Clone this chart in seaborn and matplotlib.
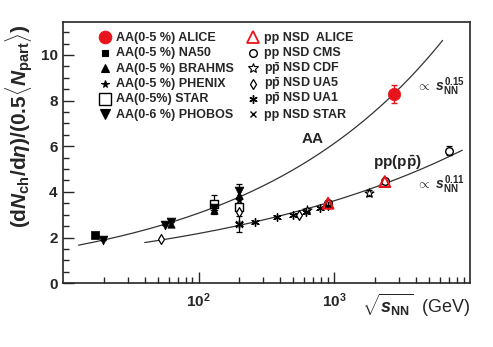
import numpy as np
import matplotlib
matplotlib.use("Agg")
import matplotlib.pyplot as plt
from matplotlib.ticker import LogLocator, MultipleLocator, FixedLocator, LogFormatterSciNotation
import seaborn as sns
import pandas as pd

# ---------------- data ----------------
alice_aa_E = [2760]; alice_aa_y = [8.3]; alice_aa_err = [0.4]
na50_E = [17.3]; na50_y = [2.1]
brahms_E = [62.4, 130, 200]; brahms_y = [2.6, 3.2, 3.85]
phenix_E = [130, 200]; phenix_y = [3.15, 3.65]
star_aa_E = [130, 200]; star_aa_y = [3.45, 3.35]; star_aa_err = [0.4, 0.0]
phobos_E = [19.6, 56, 62.4, 130, 200]; phobos_y = [1.9, 2.55, 2.7, 3.3, 4.05]; phobos_err = [0.0, 0.0, 0.0, 0.0, 0.3]

alice_pp_E = [900, 2360]; alice_pp_y = [3.5, 4.45]
cms_E = [900, 2360, 7000]; cms_y = [3.5, 4.47, 5.8]; cms_err = [0.1, 0.12, 0.2]
cdf_E = [630, 1800]; cdf_y = [3.2, 3.95]; cdf_err = [0.1, 0.15]
ua5_E = [53, 200, 546, 900]; ua5_y = [1.95, 3.1, 3.0, 3.45]
ua1_E = [200, 260, 380, 500, 620, 790, 900]; ua1_y = [2.6, 2.7, 2.9, 3.0, 3.1, 3.3, 3.4]
star_pp_E = [200]; star_pp_y = [2.6]; star_pp_err = [0.35]

x_major_ticks = [100, 1000]

left_labels = ["AA(0-5 %) ALICE", "AA(0-5 %) NA50", "AA(0-5 %) BRAHMS",
               "AA(0-5 %) PHENIX", "AA(0-5%) STAR", "AA(0-6 %) PHOBOS"]
right_labels = ["pp NSD  ALICE", "pp NSD CMS", r"p$\bar{\mathrm{p}}$ NSD CDF",
                r"p$\bar{\mathrm{p}}$ NSD UA5", r"p$\bar{\mathrm{p}}$ NSD UA1", "pp NSD STAR"]

# power-law fits  dN/deta ~ coef * s^exp  (s = E^2)
aa_coef, aa_exp, aa_range = 0.771, 0.15, (13, 6300)
pp_coef, pp_exp, pp_range = 0.79, 0.11, (40, 8800)

RED = "#e8141b"

# ---------------- style ----------------
sns.set_style("ticks")
plt.rcParams['font.family'] = ['Liberation Sans', 'DejaVu Sans']
plt.rcParams['font.weight'] = 'bold'
plt.rcParams['mathtext.fontset'] = 'custom'
plt.rcParams['mathtext.rm'] = 'Liberation Sans:bold'
plt.rcParams['mathtext.it'] = 'Liberation Sans:bold:italic'
plt.rcParams['mathtext.bf'] = 'Liberation Sans:bold'
plt.rcParams['mathtext.sf'] = 'Liberation Sans:bold'

fig = plt.figure(figsize=(4.93, 3.47), dpi=100)
ax = fig.add_axes([0.128, 0.184, 0.825, 0.753])

# fit curves
for coef, ex, rng in [(aa_coef, aa_exp, aa_range), (pp_coef, pp_exp, pp_range)]:
    E = np.logspace(np.log10(rng[0]), np.log10(rng[1]), 200)
    df = pd.DataFrame({"E": E, "y": coef * (E ** 2) ** ex})
    sns.lineplot(data=df, x="E", y="y", ax=ax, color="#333333", lw=0.9, legend=False)

# error bars
def eb(E, y, err):
    ax.errorbar(E, y, yerr=err, fmt="none", ecolor="black", elinewidth=0.9, capsize=2, capthick=0.9, zorder=3)

eb(star_aa_E, star_aa_y, star_aa_err)
eb(phobos_E, phobos_y, phobos_err)
eb(cms_E, cms_y, cms_err)
eb(cdf_E, cdf_y, cdf_err)
eb(star_pp_E, star_pp_y, star_pp_err)

series = [
    # E, y, marker, size, face, edge, lw
    (na50_E, na50_y, "s", 30, "black", "black", 0.5),
    (brahms_E, brahms_y, "^", 28, "black", "black", 0.5),
    (phenix_E, phenix_y, "*", 30, "black", "black", 0.5),
    (star_aa_E, star_aa_y, "s", 40, "white", "black", 1.0),
    (phobos_E, phobos_y, "v", 40, "black", "black", 0.5),
    (cms_E, cms_y, "o", 30, "white", "black", 1.0),
    (cdf_E, cdf_y, "*", 45, "white", "black", 0.8),
    (ua5_E, ua5_y, "d", 25, "white", "black", 0.9),
    (ua1_E, ua1_y, (6, 2, 0), 30, "black", "black", 1.0),
    (star_pp_E, star_pp_y, "x", 25, "black", "black", 1.0),
    (alice_pp_E, alice_pp_y, "^", 60, "none", RED, 1.5),
    (alice_aa_E, alice_aa_y, "o", 80, RED, RED, 0.5),
]
for E, y, m, s, fc, ec, lw in series:
    d = pd.DataFrame({"E": E, "y": y})
    if fc in ("none", "white") and m not in ("x", (6, 2, 0)):
        sns.scatterplot(data=d, x="E", y="y", ax=ax, marker=m, s=s, facecolor=fc,
                        edgecolor=ec, linewidth=lw, zorder=4, legend=False)
    else:
        sns.scatterplot(data=d, x="E", y="y", ax=ax, marker=m, s=s, color=fc,
                        edgecolor=ec, linewidth=lw, zorder=4, legend=False)

ax.errorbar(alice_aa_E, alice_aa_y, yerr=alice_aa_err, fmt="none", ecolor=RED,
            elinewidth=1.0, capsize=2, zorder=5)

# axes
ax.set_xscale("log")
ax.set_xlim(10, 1e4)
ax.set_ylim(0, 11.45)
ax.yaxis.set_major_locator(MultipleLocator(2))
ax.yaxis.set_minor_locator(MultipleLocator(0.5))
ax.xaxis.set_major_locator(FixedLocator(x_major_ticks))
ax.xaxis.set_major_formatter(LogFormatterSciNotation())
ax.xaxis.set_minor_locator(LogLocator(base=10, subs=np.arange(2, 10), numticks=20))
ax.tick_params(which="both", direction="in", top=False, right=False, width=1.0)
ax.tick_params(which="major", length=8, labelsize=11, pad=4)
ax.tick_params(which="minor", length=4)
ax.tick_params(axis="x", which="major", pad=6)
for sp in ax.spines.values():
    sp.set_linewidth(1.2)
    sp.set_visible(True)

ax.set_ylabel(r"$(\mathrm{d}\mathit{N}_{\mathrm{ch}}\mathrm{/d}\eta)\mathrm{/}(0.5\langle \mathit{N}_{\mathrm{part}}\rangle)$",
              fontsize=15)
ax.yaxis.set_label_coords(-0.07, 0.6)
ax.set_xlabel(r"$\sqrt{\mathit{s}_{\mathrm{NN}}}$  (GeV)", fontsize=13)
ax.xaxis.set_label_coords(1.0, -0.035)
ax.xaxis.label.set_ha("right")

# annotations
ax.text(698, 6.3, "AA", fontsize=11, fontweight="bold", ha="center", va="center")
ax.text(2930, 5.27, r"pp(p$\bar{\mathrm{p}}$)", fontsize=11, ha="center", va="center")
ax.text(4000, 8.6, r"$\propto\ \mathit{s}_{\mathrm{NN}}^{0.15}$", fontsize=10, ha="left", va="center")
ax.text(4000, 4.3, r"$\propto\ \mathit{s}_{\mathrm{NN}}^{0.11}$", fontsize=10, ha="left", va="center")

# legend drawn row by row (uniform row pitch)
left_markers = [("o", 9, RED, RED, 0.8), ("s", 5, "black", "black", 0.8),
                ("^", 5.5, "black", "black", 0.8), ("*", 5.5, "black", "black", 0.8),
                ("s", 8, "white", "black", 1.0), ("v", 7, "black", "black", 0.8)]
right_markers = [("^", 8, "none", RED, 1.3), ("o", 5.5, "white", "black", 1.0),
                 ("*", 7, "white", "black", 0.8), ("d", 5, "white", "black", 0.9),
                 ((6, 2, 0), 6, "black", "black", 1.0), ("x", 5, "black", "black", 1.0)]

row_top, row_pitch = 0.941, 0.0590
for col_x, markers, labels in [(0.103, left_markers, left_labels),
                               (0.467, right_markers, right_labels)]:
    for i, ((m, ms, fc, ec, mew), lab) in enumerate(zip(markers, labels)):
        yy = row_top - i * row_pitch
        ax.plot([col_x], [yy], transform=ax.transAxes, ls="none", marker=m, markersize=ms,
                markerfacecolor=fc, markeredgecolor=ec, markeredgewidth=mew, clip_on=False, zorder=6)
        ax.text(col_x + 0.027, yy - 0.0135, lab, transform=ax.transAxes, fontsize=9.0,
                fontweight="bold", ha="left", va="baseline")

fig.savefig("out.png", dpi=100)
